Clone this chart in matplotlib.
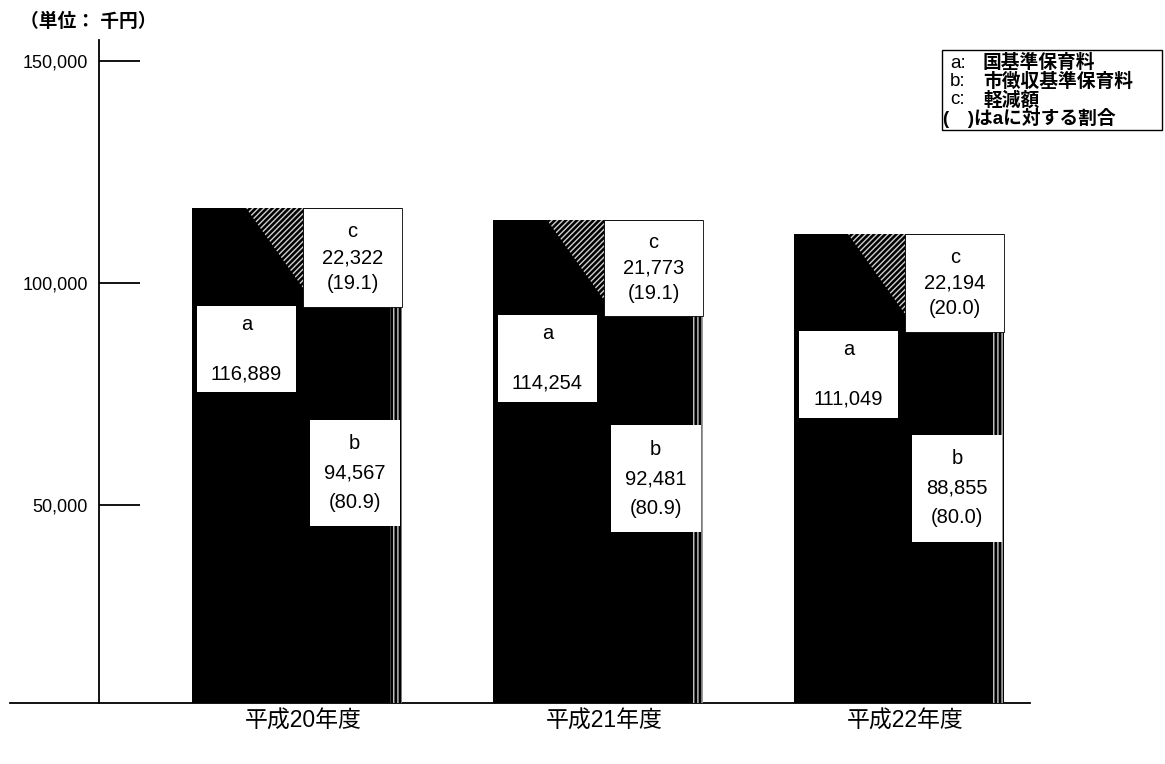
import matplotlib
matplotlib.use("Agg")
import matplotlib.pyplot as plt
from matplotlib.patches import Rectangle, Polygon

plt.rcParams['font.family'] = ['Liberation Sans', 'Noto Sans CJK JP', 'DejaVu Sans']

categories = ['平成20年度', '平成21年度', '平成22年度']
a_vals = [116889, 114254, 111049]          # 国基準保育料
b_vals = [94567, 92481, 88855]             # 市徴収基準保育料
c_vals = [22322, 21773, 22194]             # 軽減額
b_pct = ['80.9', '80.9', '80.0']
c_pct = ['19.1', '19.1', '20.0']
yticks = [50000, 100000, 150000]
ytick_labels = ['50,000', '100,000', '150,000']
legend_lines = ['a:', 'b:', 'c:']
legend_texts = ['国基準保育料', '市徴収基準保育料', '軽減額']
legend_note = '(　)はaに対する割合'
unit_label = '（単位： 千円）'

W, H = 1165, 764
fig = plt.figure(figsize=(W / 100, H / 100), dpi=100)
ax = fig.add_axes([10 / W, (H - 703) / H, 1020 / W, 663 / H])

xs = list(range(len(categories)))
bw = 0.70
half = bw / 2

ax.set_xlim(-0.953, 2.435)
ax.set_ylim(5416, 154720)

for i, x in enumerate(xs):
    a, b = a_vals[i], b_vals[i]
    # black bar a
    ax.bar(x, a, width=bw, color='black', linewidth=0, zorder=2)
    # striped right strip of b
    ax.bar(x + half - 0.02, b, width=0.04, color='black', edgecolor='#c8c8c8',
           hatch='||||', linewidth=0, zorder=3)
    # hatched triangle near top
    ax.add_patch(Polygon([(x - 0.17, a), (x + 0.02, a), (x + 0.02, a - 18000)],
                         closed=True, facecolor='black', edgecolor='#d0d0d0',
                         hatch='//////', linewidth=0, zorder=3))
    # c box (right half between b and a)
    ax.add_patch(Rectangle((x + 0.02, b), half - 0.02, a - b, facecolor='white',
                           edgecolor='black', linewidth=0.6, zorder=4))
    cy = (a + b) / 2
    ax.text(x + 0.02 + (half - 0.02) / 2, cy, f"c\n{c_vals[i]:,}\n({c_pct[i]})",
            ha='center', va='center', fontsize=14.5, linespacing=1.45, zorder=5)
    # a box
    atop = b + 300
    ah = 19500
    ax.add_patch(Rectangle((x - half + 0.017, atop - ah), half - 0.02, ah,
                           facecolor='white', edgecolor='none', zorder=4))
    ax.text(x - half + 0.017 + (half - 0.02) / 2, atop - ah / 2, f"a\n\n{a:,}",
            ha='center', va='center', fontsize=14.5, linespacing=1.4, zorder=5)
    # b box
    bcy = 0.605 * b
    bh = 24000
    ax.add_patch(Rectangle((x + 0.042, bcy - bh / 2), 0.30, bh,
                           facecolor='white', edgecolor='none', zorder=4))
    ax.text(x + 0.042 + 0.15, bcy, f"b\n{b:,}\n({b_pct[i]})",
            ha='center', va='center', fontsize=14.5, linespacing=1.7, zorder=5)

# spines
for s in ['top', 'right']:
    ax.spines[s].set_visible(False)
ax.spines['left'].set_position(('data', -0.658))
ax.spines['left'].set_linewidth(1.3)
ax.spines['bottom'].set_linewidth(1.3)

ax.set_yticks(yticks)
ax.set_yticklabels(ytick_labels, fontsize=13)
ax.tick_params(axis='y', direction='in', length=29.5, width=1.3, pad=8)
ax.set_xticks([x + 0.02 for x in xs])
ax.set_xticklabels(categories, fontsize=16.5)
ax.tick_params(axis='x', length=0, pad=5)

# unit label
fig.text(20 / W, 1 - 22 / H, unit_label, ha='left', va='center', fontsize=13.5,
         fontweight='bold')

# legend box
fig.patches.append(Rectangle((942 / W, 1 - 130 / H), 220 / W, 80 / H,
                             transform=fig.transFigure, facecolor='white',
                             edgecolor='black', linewidth=1.0, zorder=1))
ly = [63, 82, 100]
for k in range(3):
    fig.text(950 / W, 1 - ly[k] / H, legend_lines[k], ha='left', va='center',
             fontsize=13.5)
    fig.text(983 / W, 1 - ly[k] / H, legend_texts[k], ha='left', va='center',
             fontsize=13.5, fontweight='bold')
fig.text(943 / W, 1 - 118 / H, legend_note, ha='left', va='center',
         fontsize=13.5, fontweight='bold')

fig.savefig('out.png', dpi=100)
